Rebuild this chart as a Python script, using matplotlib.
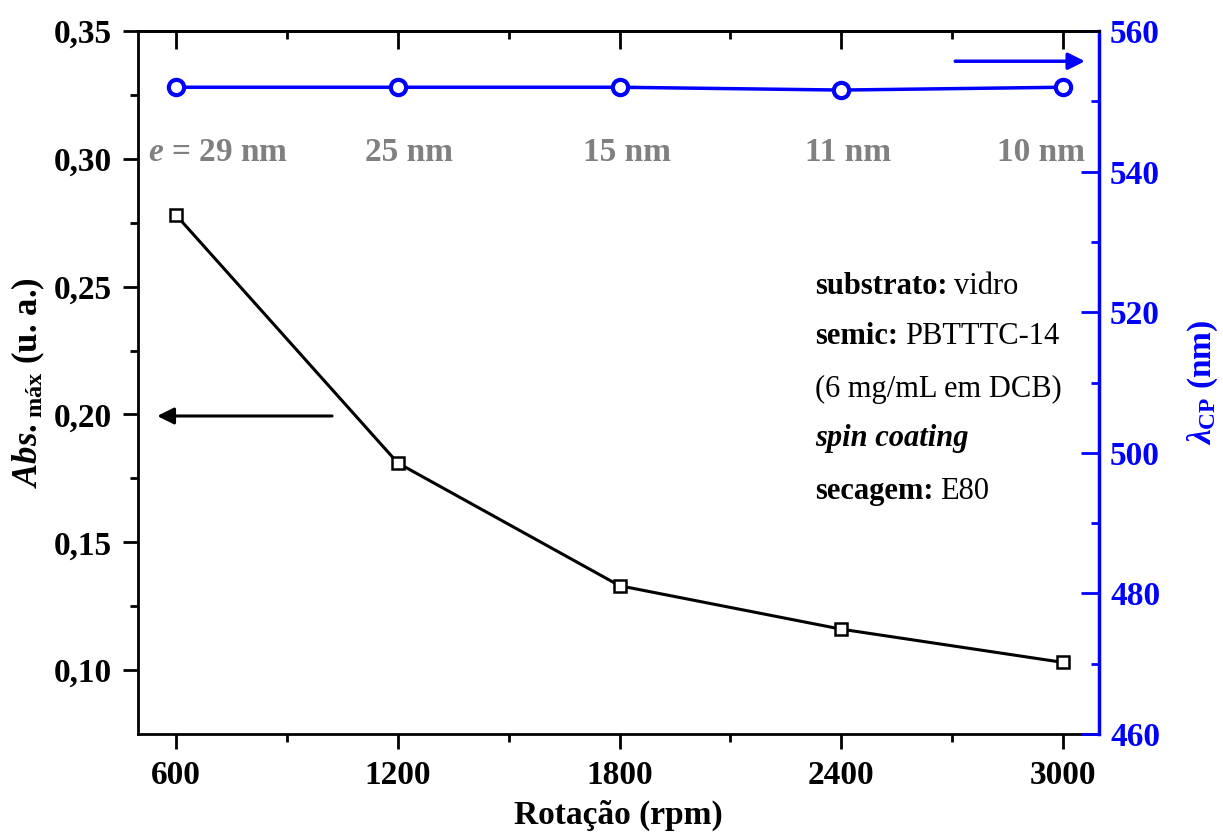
import matplotlib
matplotlib.use('Agg')
import matplotlib.pyplot as plt

# data
rpm = [600, 1200, 1800, 2400, 3000]
abs_max = [0.278, 0.181, 0.133, 0.116, 0.103]
lambda_cp = [552.0, 552.0, 552.0, 551.6, 552.0]
thickness = ['$e$ = 29 nm', '25 nm', '15 nm', '11 nm', '10 nm']
# label x positions (they are not exactly centred on the points)
thickness_x = [714, 1230, 1820, 2418, 2940]

plt.rcParams['font.family'] = ['Liberation Serif', 'DejaVu Serif']
plt.rcParams['mathtext.fontset'] = 'custom'
plt.rcParams['mathtext.rm'] = 'Liberation Serif:bold'
plt.rcParams['mathtext.bf'] = 'Liberation Serif:bold'
plt.rcParams['mathtext.it'] = 'Liberation Serif:italic:bold'

blue = '#0000ff'
gray = '#808080'
fs = 24

fig = plt.figure(figsize=(12.23, 8.32), dpi=100)
ax = fig.add_axes([138 / 1223, 1 - 734 / 832, (1099 - 138) / 1223, (734 - 31) / 832])
ax2 = ax.twinx()
ax3 = ax.twiny()

# black: absorbance
ax.plot(rpm, abs_max, '-s', color='black', lw=2.2, ms=8, mfc='white',
        mec='black', mew=1.8, zorder=3)
ax.set_xlim(497, 3097)
ax.set_ylim(0.075, 0.35)
ax.set_xticks(rpm)
ax.set_xticks([900, 1500, 2100, 2700], minor=True)
ax.set_yticks([0.10, 0.15, 0.20, 0.25, 0.30, 0.35])
ax.set_yticks([0.125, 0.175, 0.225, 0.275, 0.325], minor=True)
ax.set_yticklabels(['0,10', '0,15', '0,20', '0,25', '0,30', '0,35'])
ax.tick_params(axis='both', which='major', direction='out', length=11, width=2,
               labelsize=fs, pad=8)
ax.tick_params(axis='both', which='minor', direction='out', length=6, width=2)
for lab in ax.get_xticklabels() + ax.get_yticklabels():
    lab.set_fontweight('bold')
for s in ['left', 'bottom', 'top']:
    ax.spines[s].set_linewidth(2)
ax.set_xlabel('Rotação (rpm)', fontsize=fs, fontweight='bold', labelpad=6)
ax.set_ylabel(r'$\mathit{Abs}.$$_{\mathrm{máx}}$ (u. a.)', fontsize=25,
              fontweight='bold', labelpad=5)

# top axis: ticks pointing inward, no labels
ax3.set_xlim(497, 3097)
ax3.set_xticks(rpm)
ax3.set_xticks([900, 1500, 2100, 2700], minor=True)
ax3.xaxis.set_ticks_position('top')
ax3.tick_params(axis='x', which='major', direction='in', length=13, width=2,
                top=True, bottom=False, labeltop=False, labelbottom=False,
                color='black')
ax3.tick_params(axis='x', which='minor', direction='in', length=6, width=2,
                top=True, bottom=False, color='black')
for s in ['left', 'bottom', 'right']:
    ax3.spines[s].set_visible(False)
ax3.spines['top'].set_linewidth(2)

# blue: lambda CP
ax2.plot(rpm, lambda_cp, '-o', color=blue, lw=2.5, ms=11, mfc='white',
         mec=blue, mew=3, zorder=3)
ax2.set_ylim(460, 560)
ax2.set_yticks([460, 480, 500, 520, 540, 560])
ax2.set_yticks([470, 490, 510, 530, 550], minor=True)
ax2.tick_params(axis='y', which='major', direction='in', length=13, width=2,
                colors=blue, labelsize=fs, pad=8)
ax2.tick_params(axis='y', which='minor', direction='in', length=6, width=2,
                colors=blue)
for lab in ax2.get_yticklabels():
    lab.set_fontweight('bold')
ax2.spines['right'].set_color(blue)
ax2.spines['right'].set_linewidth(2.5)
for s in ['left', 'bottom', 'top']:
    ax2.spines[s].set_visible(False)
ax2.set_ylabel(r'$\mathit{λ}_{\mathrm{CP}}$ (nm)', fontsize=fs, fontweight='bold',
               color=blue, labelpad=18)

# thickness labels
for x, t in zip(thickness_x, thickness):
    ax.text(x, 0.3023, t, ha='center', va='center', fontsize=fs,
            fontweight='bold', color=gray)

# arrows pointing to axes
ax.annotate('', xy=(549, 0.1994), xytext=(1022, 0.1994),
            arrowprops=dict(arrowstyle='-|>', color='black', lw=2.2,
                            mutation_scale=25, shrinkA=0, shrinkB=0))
ax2.annotate('', xy=(3059, 555.7), xytext=(2708, 555.7),
             arrowprops=dict(arrowstyle='-|>', color=blue, lw=2.5,
                             mutation_scale=25, shrinkA=0, shrinkB=0))

# info block
tfs = 22
x0 = 2328
lines_y = [0.2502, 0.2303, 0.2099, 0.1904, 0.1700]
t1 = ax.text(x0, lines_y[0], 'substrato:', fontsize=tfs, fontweight='bold',
             va='center', ha='left')
t2 = ax.text(x0, lines_y[1], 'semic:', fontsize=tfs, fontweight='bold',
             va='center', ha='left')
ax.text(x0, lines_y[2], '(6 mg/mL em DCB)', fontsize=tfs, va='center', ha='left')
ax.text(x0, lines_y[3], 'spin coating', fontsize=tfs, fontweight='bold',
        fontstyle='italic', va='center', ha='left')
t5 = ax.text(x0, lines_y[4], 'secagem:', fontsize=tfs, fontweight='bold',
             va='center', ha='left')
for t, rest in [(t1, 'vidro'), (t2, 'PBTTTC-14'), (t5, 'E80')]:
    ax.annotate(rest, xy=(1, 0.5), xycoords=t, xytext=(5, 0),
                textcoords='offset points', fontsize=tfs, va='center', ha='left')

fig.savefig('out.png', dpi=100)
